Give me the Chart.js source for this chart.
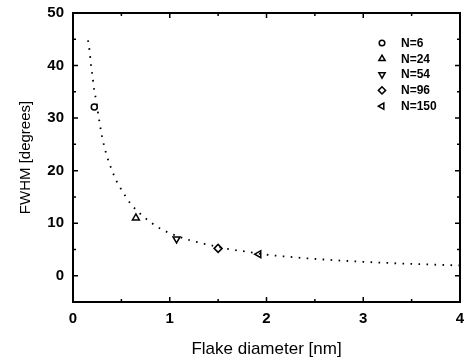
<!DOCTYPE html>
<html>
<head>
<meta charset="utf-8">
<script src="https://cdn.jsdelivr.net/npm/chart.js@4"></script>
<style>
html,body{margin:0;padding:0;background:#fff;}
#wrap{width:466px;height:364px;}
</style>
</head>
<body>
<div id="wrap"><canvas id="c" width="466" height="364"></canvas></div>
<script>
// Data
const seriesLabels = ['N=6', 'N=24', 'N=54', 'N=96', 'N=150'];
const seriesX = [0.22, 0.65, 1.07, 1.50, 1.92];
const seriesY = [32.1, 11.0, 7.0, 5.2, 4.1];
const seriesStyles = ['circle', 'triangle', 'triangle', 'rectRot', 'triangle'];
const seriesRot = [0, 0, 180, 0, -90];

const fitX = [0.155, 0.17, 0.186, 0.2, 0.22, 0.24, 0.262, 0.3, 0.35, 0.4, 0.45, 0.5, 0.6, 0.7, 0.8, 0.9, 1.0, 1.2, 1.4, 1.6, 1.8, 2.0, 2.2, 2.5, 3.0, 3.5, 4.0];
const fitY = [44.8, 43.0, 40.1, 38.2, 35.2, 33.4, 30.6, 26.5, 22.8, 20.2, 18.0, 16.4, 13.6, 11.7, 10.2, 9.0, 8.1, 6.8, 5.9, 5.1, 4.55, 4.0, 3.65, 3.2, 2.65, 2.25, 1.95];

const xTicks = [0, 1, 2, 3, 4];
const yTicks = [0, 10, 20, 30, 40, 50];
const xMinor = [0.5, 1.5, 2.5, 3.5];
const yMinor = [5, 15, 25, 35, 45];

const FONT = '"Liberation Sans", Arial, Helvetica, sans-serif';

const datasets = [{
  label: 'fit',
  data: fitX.map((x, i) => ({x: x, y: fitY[i]})),
  showLine: true,
  borderColor: '#000',
  borderWidth: 1.8,
  borderDash: [1.6, 6.4],
  borderCapStyle: 'butt',
  pointRadius: 0,
  tension: 0.4,
  cubicInterpolationMode: 'monotone',
  fill: false
}];
seriesLabels.forEach((lab, i) => {
  datasets.push({
    label: lab,
    data: [{x: seriesX[i], y: seriesY[i]}],
    showLine: false,
    pointStyle: seriesStyles[i],
    rotation: seriesRot[i],
    pointRadius: seriesStyles[i] === 'circle' ? 3 : 4,
    pointBorderWidth: 1.5,
    borderColor: '#000',
    backgroundColor: 'rgba(0,0,0,0)',
    pointBackgroundColor: 'rgba(0,0,0,0)'
  });
});

const framePlugin = {
  id: 'frame',
  afterDraw(chart) {
    const ctx = chart.ctx;
    const a = chart.chartArea;
    const xs = chart.scales.x, ys = chart.scales.y;
    ctx.save();
    ctx.strokeStyle = '#000';
    ctx.lineWidth = 2;
    ctx.strokeRect(a.left, a.top, a.right - a.left, a.bottom - a.top);
    ctx.lineWidth = 1.5;
    ctx.beginPath();
    const tick = (vals, len) => {
      vals.forEach(v => {
        const px = xs.getPixelForValue(v);
        ctx.moveTo(px, a.bottom); ctx.lineTo(px, a.bottom - len);
        ctx.moveTo(px, a.top); ctx.lineTo(px, a.top + len);
      });
    };
    const tickY = (vals, len) => {
      vals.forEach(v => {
        const py = ys.getPixelForValue(v);
        ctx.moveTo(a.left, py); ctx.lineTo(a.left + len, py);
        ctx.moveTo(a.right, py); ctx.lineTo(a.right - len, py);
      });
    };
    tick(xTicks, 5); tick(xMinor, 3);
    tickY(yTicks, 5); tickY(yMinor, 3);
    ctx.stroke();

    // legend inside plot
    const lx = 382, lt = 43, step = 15.8;
    seriesLabels.forEach((lab, i) => {
      const y = lt + i * step;
      ctx.lineWidth = 1.5;
      ctx.strokeStyle = '#000';
      ctx.fillStyle = 'rgba(0,0,0,0)';
      Chart.helpers.drawPoint(ctx, {
        pointStyle: seriesStyles[i],
        rotation: seriesRot[i],
        radius: seriesStyles[i] === 'circle' ? 2.8 : 3.6,
        borderWidth: 1.5
      }, lx, y);
      ctx.font = 'bold 12px ' + FONT;
      ctx.fillStyle = '#000';
      ctx.textBaseline = 'middle';
      ctx.textAlign = 'left';
      ctx.fillText(lab, 401, y + 0.5);
    });
    ctx.restore();
  }
};

const noPad = s => { s.paddingTop = 0; s.paddingBottom = 0; s.paddingLeft = 0; s.paddingRight = 0; };

new Chart(document.getElementById('c'), {
  type: 'scatter',
  data: {datasets: datasets},
  options: {
    responsive: false,
    animation: false,
    devicePixelRatio: 1,
    layout: {padding: {top: 13, right: 6, left: 0, bottom: 0}},
    plugins: {legend: {display: false}, tooltip: {enabled: false}},
    scales: {
      x: {
        type: 'linear', min: 0, max: 4,
        afterBuildTicks: s => { s.ticks = xTicks.map(v => ({value: v})); },
        afterFit: s => { s.height = 62; noPad(s); },
        grid: {display: false, drawTicks: false},
        border: {display: false},
        ticks: {color: '#000', font: {family: FONT, size: 15, weight: 'bold'}, padding: 8},
        title: {display: true, text: 'Flake diameter [nm]', color: '#000',
                font: {family: FONT, size: 17}, padding: {top: 0, bottom: 4}}
      },
      y: {
        type: 'linear', min: -5, max: 50,
        afterBuildTicks: s => { s.ticks = yTicks.map(v => ({value: v})); },
        afterFit: s => { s.width = 73; noPad(s); },
        grid: {display: false, drawTicks: false},
        border: {display: false},
        ticks: {color: '#000', font: {family: FONT, size: 15, weight: 'bold'}, padding: 9},
        title: {display: true, text: 'FWHM [degrees]', color: '#000',
                font: {family: FONT, size: 15}, padding: {top: 17, bottom: 0}}
      }
    }
  },
  plugins: [framePlugin]
});
</script>
</body>
</html>
